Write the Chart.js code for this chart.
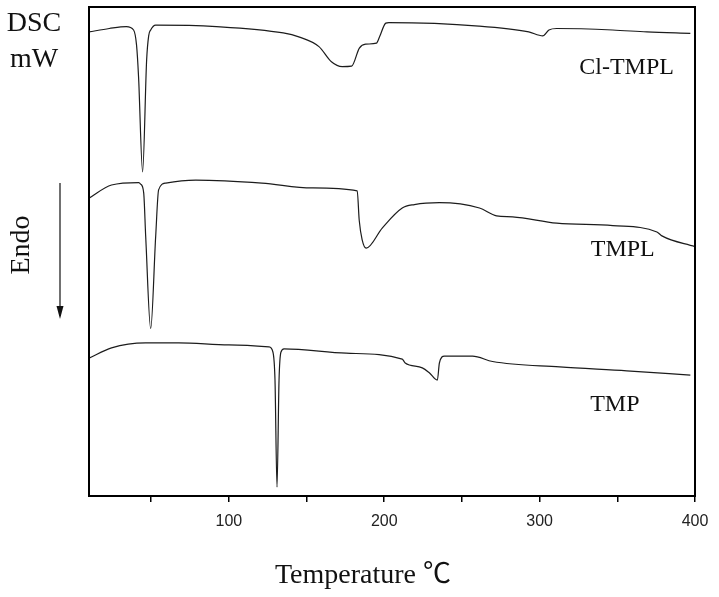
<!DOCTYPE html>
<html>
<head>
<meta charset="utf-8">
<script src="https://cdn.jsdelivr.net/npm/chart.js@4/dist/chart.umd.min.js"></script>
<style>
  body { margin: 0; background: #fff; }
  #wrap { width: 719px; height: 597px; }
</style>
</head>
<body>
<div id="wrap"><canvas id="grafico" width="719" height="597"></canvas></div>
<script>
// temperatures (°C) and DSC signal (arbitrary, 0-100 of the frame height)
const clTemp   = [10, 23, 34, 38.7, 40.6, 41.9, 44.5, 47.1, 48.4, 49.7, 52.9, 92, 135, 145, 158, 166, 173, 179, 184, 188, 195, 197, 201, 203, 261, 293, 302, 306, 311, 347, 369, 397];
const clSignal = [94.9, 95.6, 96.0, 95.3, 92.2, 85.7, 66.3, 89.2, 94.1, 95.3, 96.3, 96.0, 94.7, 93.9, 91.9, 88.8, 87.8, 87.9, 91.6, 92.4, 92.6, 93.9, 96.7, 96.8, 96.1, 94.9, 94.1, 95.3, 95.6, 95.3, 94.9, 94.6];

const tmplTemp   = [10, 24.5, 42, 43.2, 45.2, 46.5, 49.7, 52.9, 54.8, 59.4, 78.7, 121.3, 153.5, 182.6, 183.9, 185.8, 188.4, 198.7, 211.6, 219.4, 235.5, 261.3, 272.3, 282.6, 311, 347.1, 375.5, 378.7, 400];
const tmplSignal = [60.9, 63.6, 64.1, 63.8, 62.0, 53.0, 34.2, 53.0, 62.6, 64.0, 64.6, 64.0, 63.0, 62.4, 56.4, 52.4, 50.7, 54.8, 58.9, 59.6, 60.0, 58.9, 57.3, 57.1, 55.8, 55.3, 54.0, 53.2, 51.0];

const tmpTemp   = [10, 24.5, 46.5, 67.7, 100, 125.8, 128.4, 129.7, 131, 132.3, 133.5, 135.5, 175.5, 211.6, 213.5, 224.5, 229, 234.2, 235.5, 238.7, 256.8, 269.7, 312.9, 356.1, 397];
const tmpSignal = [28.2, 30.3, 31.3, 31.3, 30.9, 30.5, 29.4, 23.7, 1.8, 23.7, 29.4, 30.1, 29.2, 28.0, 27.2, 26.2, 25.2, 23.7, 27.2, 28.6, 28.6, 27.5, 26.4, 25.6, 24.7];

const seriesNames = ['Cl-TMPL', 'TMPL', 'TMP'];
const xTicks = [50, 100, 150, 200, 250, 300, 350, 400];
const xLabels = [100, 200, 300, 400];

function pontos(temps, sinal){
    return temps.map((t, i) => ({x: t, y: sinal[i]}));
}

function serie(nome, temps, sinal){
    return {
        label: nome,
        data: pontos(temps, sinal),
        borderColor: '#1c1c1c',
        borderWidth: 1.2,
        pointRadius: 0,
        fill: false,
        cubicInterpolationMode: 'monotone'
    };
}

// frame, axis texts, arrow and curve names
const decoracao = {
    id: 'decoracao',
    afterDraw(chart){
        const ctx = chart.ctx;
        const a = chart.chartArea;
        const sx = chart.scales.x, sy = chart.scales.y;
        ctx.save();
        ctx.strokeStyle = '#000';
        ctx.lineWidth = 2;
        ctx.strokeRect(a.left, a.top, a.right - a.left, a.bottom - a.top);

        ctx.fillStyle = '#111';
        ctx.textAlign = 'center';
        ctx.textBaseline = 'middle';
        ctx.font = '28px "Liberation Serif", "Noto Sans CJK SC", serif';
        ctx.fillText('DSC', 34, 24);
        ctx.fillText('mW', 34, 60);
        ctx.fillText('Temperature \u2103', 363, 576);

        ctx.save();
        ctx.translate(22, 245);
        ctx.rotate(-Math.PI / 2);
        ctx.fillText('Endo', 0, 0);
        ctx.restore();

        // arrow
        ctx.strokeStyle = '#111';
        ctx.lineWidth = 1.2;
        ctx.beginPath();
        ctx.moveTo(60, 183);
        ctx.lineTo(60, 316);
        ctx.stroke();
        ctx.beginPath();
        ctx.moveTo(56.5, 306);
        ctx.lineTo(60, 319);
        ctx.lineTo(63.5, 306);
        ctx.closePath();
        ctx.fill();

        ctx.font = '24px "Liberation Serif", serif';
        const pos = [[356, 87.5], [353.5, 50.3], [348.4, 18.6]];
        seriesNames.forEach((n, i) => {
            ctx.fillText(n, sx.getPixelForValue(pos[i][0]), sy.getPixelForValue(pos[i][1]));
        });
        ctx.restore();
    }
};

new Chart(document.getElementById('grafico'), {
    type: 'line',
    data: {
        datasets: [
            serie(seriesNames[0], clTemp, clSignal),
            serie(seriesNames[1], tmplTemp, tmplSignal),
            serie(seriesNames[2], tmpTemp, tmpSignal)
        ]
    },
    options: {
        responsive: false,
        animation: false,
        devicePixelRatio: 1,
        layout: { padding: { left: 89, right: 24, top: 7, bottom: 0 } },
        plugins: { legend: { display: false }, tooltip: { enabled: false } },
        scales: {
            x: {
                type: 'linear',
                min: 10,
                max: 400,
                afterBuildTicks: s => { s.ticks = xTicks.map(v => ({value: v})); },
                afterFit: s => { s.height = 101; },
                border: { display: false },
                grid: { drawOnChartArea: false, drawTicks: true, tickLength: 6, color: '#000', lineWidth: 1.5 },
                ticks: {
                    padding: 10,
                    color: '#222',
                    font: { family: '"Liberation Sans", Arial, sans-serif', size: 16 },
                    maxRotation: 0,
                    autoSkip: false,
                    callback: v => xLabels.includes(v) ? String(v) : ''
                }
            },
            y: {
                type: 'linear',
                min: 0,
                max: 100,
                display: false
            }
        }
    },
    plugins: [decoracao]
});
</script>
</body>
</html>
